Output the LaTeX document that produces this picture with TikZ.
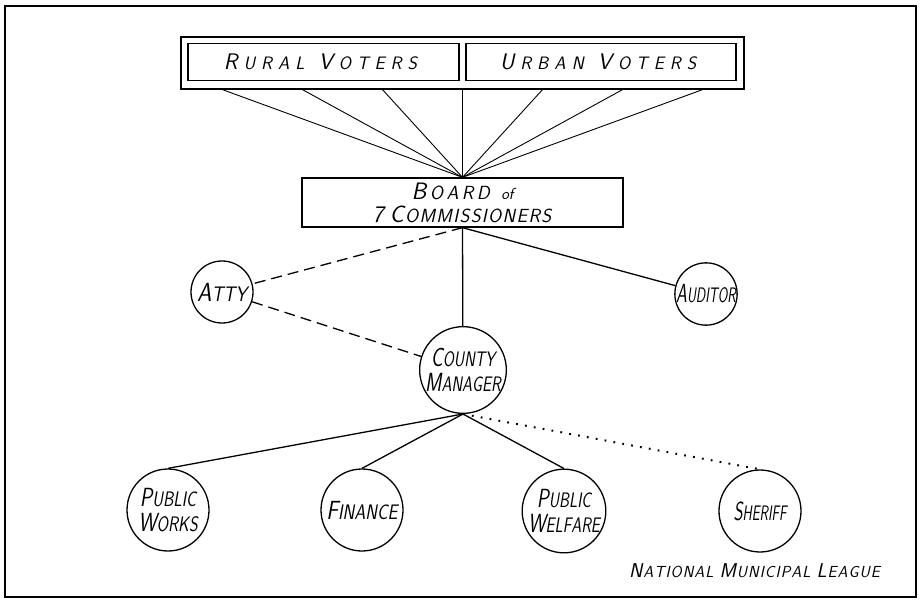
\documentclass[tikz,border=0pt]{standalone}
\usepackage{fontspec}
\usepackage{graphicx}
% spacing put after every letter of a word
\newlength{\lsgap}
\makeatletter
\def\ls#1{\ls@#1\@nil}
\def\ls@#1{\ifx#1\@nil\else#1\kern\lsgap\expandafter\ls@\fi}
\makeatother
% first letter of a word drawn taller than the rest
\newcommand{\ini}[2]{\scalebox{1.25}{#1}\kern\lsgap\ls{#2}}
% narrow lettering inside the circles
\newcommand{\nar}[2][0.8]{\scalebox{#1}[1]{#2}}
\begin{document}
\begin{tikzpicture}[x=1pt,y=-1pt,
    lettering/.style={font=\sffamily\slshape\fontsize{21}{24.5}\selectfont},
    office/.style={circle, draw, line width=1.3pt, minimum size=82pt, inner sep=0pt,
      align=center, lettering},
    aide/.style={office, minimum size=62pt},
    box/.style={rectangle, draw, line width=1.3pt, inner sep=0pt, align=center},
    voterbox/.style={box, minimum height=37pt,
      font=\sffamily\slshape\fontsize{18}{20}\selectfont\setlength{\lsgap}{6pt}},
    link/.style={line width=1.3pt},
    loose/.style={link, dash pattern=on 11pt off 6pt},
    weak/.style={line width=2pt, dash pattern=on 1.8pt off 7.2pt}]
  \useasboundingbox (0,0) rectangle (924,604);
  \draw[line width=1.6pt] (5,6) rectangle (916,597);
  % voters
  \node[box, minimum width=563pt, minimum height=52pt] (voters) at (462.5,63) {};
  \node[voterbox, minimum width=271pt] (rural) at (323.5,62) {\ini{R}{URAL}\hspace{8pt}\ini{V}{OTERS}};
  \node[voterbox, minimum width=270pt] (urban) at (601,62) {\ini{U}{RBAN}\hspace{8pt}\ini{V}{OTERS}};
  % board
  \node[box, minimum width=321pt, minimum height=49pt,
    font=\sffamily\slshape\fontsize{19}{23}\selectfont\setlength{\lsgap}{1.3pt}]
    (board) at (462.5,202.5)
    {{\setlength{\lsgap}{3.5pt}\ini{B}{OARD}}\hspace{8pt}{\fontsize{16}{16}\selectfont of}\\
     \scalebox{1.25}{7} \ini{C}{OMMISSIONERS}};
  \foreach \dx in {-240,-160,-80,0,80,160,240}
    \draw[line width=0.9pt] ([xshift=\dx pt]voters.south) -- (board.north);
  % officers
  \node[aide] (atty) at (222,292) {\nar[0.88]{\ini{A}{TTY}}};
  \node[aide] (auditor) at (706,294) {\nar[0.66]{\ini{A}{UDITOR}}};
  \node[office] (manager) at (463,370) {\nar[0.76]{\ini{C}{OUNTY}}\\\nar[0.76]{\ini{M}{ANAGER}}};
  \node[office] (works) at (168,510) {\nar[0.79]{\ini{P}{UBLIC}}\\\nar[0.79]{\ini{W}{ORKS}}};
  \node[office] (finance) at (362,510) {\nar[0.84]{\ini{F}{INANCE}}};
  \node[office] (welfare) at (564,511) {\nar[0.76]{\ini{P}{UBLIC}}\\\nar[0.76]{\ini{W}{ELFARE}}};
  \node[office] (sheriff) at (760,511) {\nar[0.66]{\ini{S}{HERIFF}}};
  \draw[loose] (board.south) -- (atty);
  \draw[link] (board.south) -- (manager);
  \draw[link] (board.south) -- (auditor);
  \draw[loose] (atty) -- (manager);
  \draw[link] (manager.south) -- (works.north);
  \draw[link] (manager.south) -- (finance.north);
  \draw[link] (manager.south) -- (welfare.north);
  \draw[weak] (manager.south) -- (sheriff.north);
  \node[font=\sffamily\slshape\fontsize{16}{18}\selectfont\setlength{\lsgap}{1pt}]
    (league) at (755,571) {\ini{N}{ATIONAL} \ini{M}{UNICIPAL} \ini{L}{EAGUE}};
\end{tikzpicture}
\end{document}
